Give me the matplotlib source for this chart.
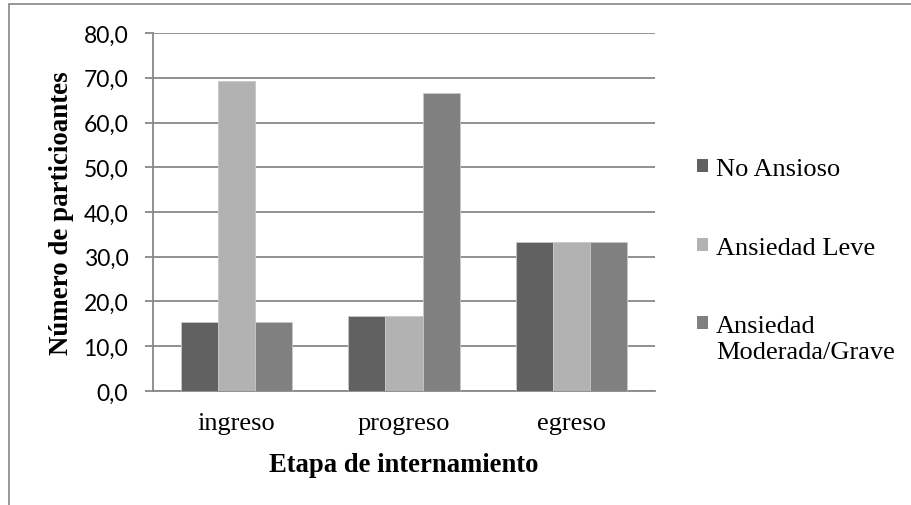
import numpy as np
import matplotlib.pyplot as plt
from matplotlib.patches import Patch, Rectangle
from matplotlib.legend_handler import HandlerPatch

# Datos por etapa
etapas = ['ingreso', 'progreso', 'egreso']
no_ansioso = [15.4, 16.7, 33.3]
ansiedad_leve = [69.2, 16.7, 33.3]
ansiedad_mod_grave = [15.4, 66.7, 33.3]
series_labels = ['No Ansioso', 'Ansiedad Leve', 'Ansiedad\nModerada/Grave']
colores = ['#616161', '#b2b2b2', '#808080']

serif = 'Liberation Serif'
sans = 'Lato'

fig = plt.figure(figsize=(9.12, 5.06), dpi=100)
ax = fig.add_axes([0.1678, 0.2253, 0.5504, 0.7075])

# marco gris del área del gráfico
fig.patches.append(Rectangle((9/912, -0.1), 1.2, 1 - 5/506 + 0.1, transform=fig.transFigure,
                             fill=False, edgecolor='#868686', linewidth=1.2, zorder=0))

x = np.arange(len(etapas))
w = 0.222
for i, vals in enumerate([no_ansioso, ansiedad_leve, ansiedad_mod_grave]):
    ax.bar(x + (i - 1) * w, vals, width=w, color=colores[i], edgecolor='#c8c8c8',
           linewidth=0.6, zorder=3, label=series_labels[i])

ax.set_xlim(-0.5, 2.5)
ax.set_ylim(0, 80)
ax.set_yticks(np.arange(0, 81, 10))
ax.set_yticklabels([f'{v:.1f}'.replace('.', ',') for v in np.arange(0, 81, 10)],
                   fontsize=16.5, family=sans)
ax.set_xticks(x)
ax.set_xticklabels(etapas, fontsize=19, family=serif)
ax.yaxis.grid(True, color='#888888', linewidth=1.3, zorder=0)
ax.tick_params(axis='y', length=5.8, width=1.3, color='#888888', pad=12)
ax.tick_params(axis='x', length=0, pad=15)
for s in ['top', 'right']:
    ax.spines[s].set_visible(False)
for s in ['left', 'bottom']:
    ax.spines[s].set_color('#888888')
    ax.spines[s].set_linewidth(1.3)

ax.set_ylabel('Número de particioantes', fontsize=19.4, family=serif, fontweight='bold', labelpad=7)
ax.set_xlabel('Etapa de internamiento', fontsize=19.2, family=serif, fontweight='bold', labelpad=13)


# el cuadro de la leyenda se alinea con la primera línea del texto
def cuadro_primera_linea(legend, orig_handle, xdescent, ydescent, width, height, fontsize):
    return Rectangle((-xdescent, -ydescent + 0.6 * fontsize), width, height)


handles = [Patch(facecolor=c, edgecolor='none') for c in colores]
ax.legend(handles, series_labels, loc='center left', bbox_to_anchor=(1.037, 0.365),
          frameon=False, prop={'family': serif, 'size': 19}, handlelength=0.4,
          handleheight=0.4, handletextpad=0.3, labelspacing=2.15,
          handler_map={handles[2]: HandlerPatch(patch_func=cuadro_primera_linea)})

plt.savefig('out.png', dpi=100)
